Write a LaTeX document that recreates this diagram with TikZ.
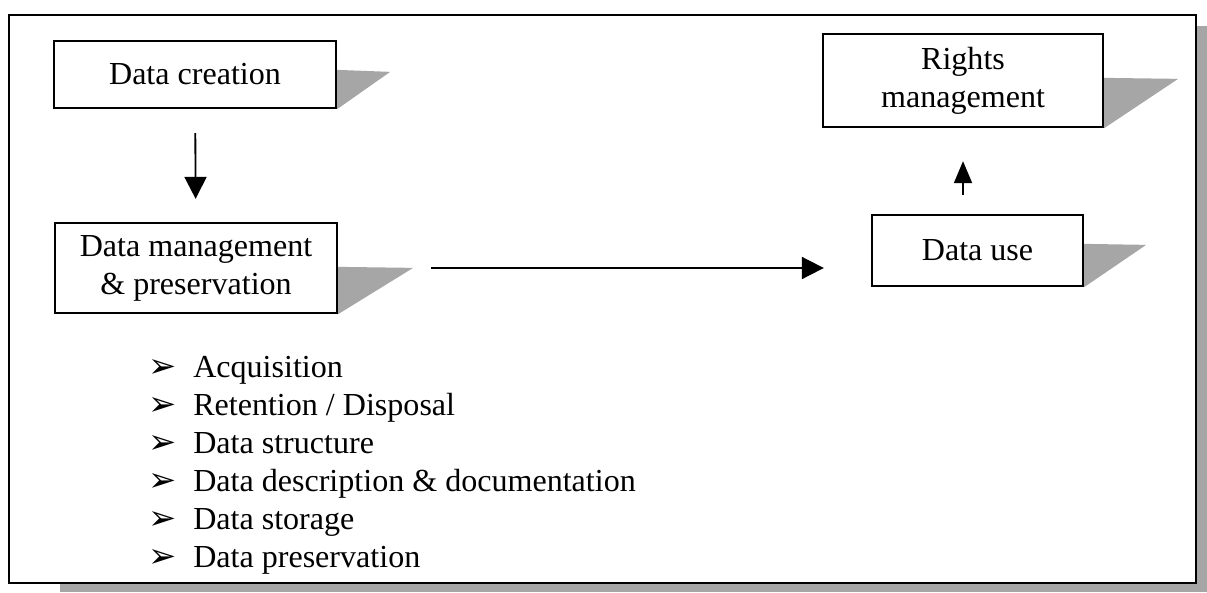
\documentclass[tikz,border=0pt]{standalone}
\usepackage{fontspec}
\setmainfont{Liberation Serif}
\newfontfamily\dejavu{DejaVu Sans}
\usepackage{tikz}
\usetikzlibrary{arrows.meta,calc}

\begin{document}
\begin{tikzpicture}[x=0.025cm, y=-0.025cm,
    box/.style={draw, line width=1.6pt, fill=white, inner sep=0, align=center, font=\fontsize{22.8}{27}\selectfont},
    shade/.style={fill=gray!70},
    flow/.style={line width=1.3pt, -{Triangle[width=0.55cm, length=0.55cm]}},
    itemtext/.style={anchor=base west, inner sep=0, font=\fontsize{22.8}{27}\selectfont},
    bullet/.style={anchor=base west, inner sep=0, font=\dejavu\fontsize{24}{28}\selectfont}]
                \useasboundingbox (0,0) rectangle (1207,592);
                % frame with its shadow
                \fill[shade] (60,26) rectangle (1207,592);
                \draw[line width=1.9pt, fill=white] (9,15) rectangle (1196,583);

                \node[box, minimum width=7.05cm, minimum height=1.675cm](create) at (195,74.5) {Data creation};
                \node[box, minimum width=7.05cm, minimum height=2.25cm](manage) at (196,268) {Data management\\ \& preservation};
                \node[box, minimum width=7cm, minimum height=2.325cm](rights) at (963,80.5) {Rights\\ management};
                \node[box, minimum width=5.275cm, minimum height=1.775cm](use) at (977.5,250.5) {Data use};

                % shadows of the boxes
                \fill[shade] ($(create.north east)+(0,30)$) -- ++(53,2) -- (create.south east) -- cycle;
                \fill[shade] ($(manage.north east)+(0,45)$) -- ++(75,1) -- (manage.south east) -- cycle;
                \fill[shade] ($(rights.north east)+(0,45)$) -- ++(74,1) -- (rights.south east) -- cycle;
                \fill[shade] ($(use.north east)+(0,30)$) -- ++(62,1) -- (use.south east) -- cycle;

                \draw[flow, shorten <=0.6cm, shorten >=0.575cm] (create) -- (manage);
                \draw[flow, shorten <=2.325cm, shorten >=1.175cm] (manage.east) -- (manage.east -| use.west);
                \draw[flow, -{Triangle[width=0.45cm, length=0.55cm]}, shorten <=0.475cm, shorten >=0.825cm] (use.north -| rights) -- (rights.south);

                \foreach \txt [count=\i] in {Acquisition, {Retention / Disposal}, Data structure, Data description \& documentation, Data storage, Data preservation}{
                    \node[bullet](bul\i) at (148, 339+38*\i) {➢};
                    \node[itemtext](itm\i) at (193, 339+38*\i) {\txt};
                }
\end{tikzpicture}
\end{document}
